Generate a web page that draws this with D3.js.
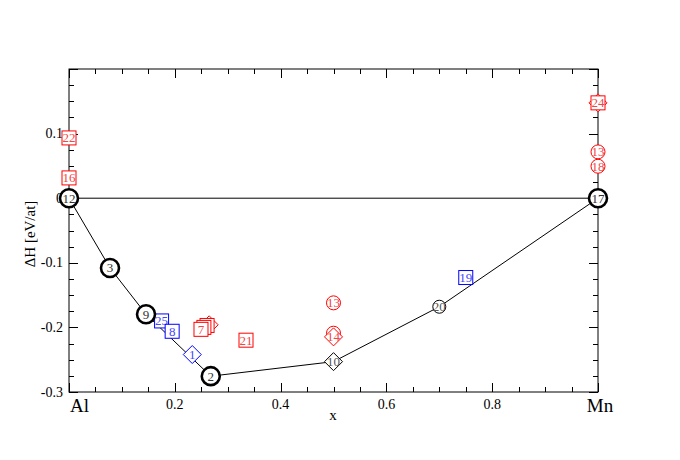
<!DOCTYPE html>
<html><head><meta charset="utf-8">
<script src="https://cdn.jsdelivr.net/npm/d3@7"></script>
<style>body{margin:0;background:#fff}svg{display:block}text{font-family:"Liberation Serif","DejaVu Serif",serif}</style>
</head><body><svg id="c" width="680" height="460"></svg>
<script>
// ---- data ----
const hullX = [0, 0.0775, 0.1456, 0.268, 0.5, 0.7, 1];
const hullY = [0, -0.108, -0.1796, -0.2755, -0.253, -0.168, 0];

const blackBigLabels = ["12", "3", "9", "2", "17"];
const blackBigX = [0, 0.0775, 0.1456, 0.268, 1];
const blackBigY = [0, -0.108, -0.1796, -0.2755, 0];

const blackSmallLabels = ["20"];
const blackSmallX = [0.7];
const blackSmallY = [-0.168];

const blackDiamondLabels = ["10"];
const blackDiamondX = [0.5];
const blackDiamondY = [-0.253];

const blueSquareLabels = ["25", "8", "19"];
const blueSquareX = [0.175, 0.195, 0.75];
const blueSquareY = [-0.190, -0.206, -0.1228];

const blueDiamondLabels = ["1"];
const blueDiamondX = [0.233];
const blueDiamondY = [-0.242];

// labels hidden behind other markers in the reference are left empty
const redCircleLabels = ["13", "", "13", "18"];
const redCircleX = [0.5, 0.5, 1, 1];
const redCircleY = [-0.162, -0.209, 0.0717, 0.0495];

const redDiamondLabels = ["", "14", ""];
const redDiamondX = [0.265, 0.5, 1];
const redDiamondY = [-0.196, -0.2147, 0.1476];

const redSquareLabels = ["22", "16", "24", "", "", "7", "21"];
const redSquareX = [0, 0, 1, 0.261, 0.255, 0.2495, 0.3346];
const redSquareY = [0.0933, 0.0314, 0.1476, -0.197, -0.200, -0.203, -0.2198];

const xTicks = [0, 0.2, 0.4, 0.6, 0.8, 1];
const xTickLabels = ["Al", "0.2", "0.4", "0.6", "0.8", "Mn"];
const yTicks = [0.1, 0, -0.1, -0.2, -0.3];
const yTickLabels = ["0.1", "0", "-0.1", "-0.2", "-0.3"];

// ---- layout ----
const svg = d3.select("#c");
const L = 69, R = 598, T = 69, B = 392;
const x = d3.scaleLinear().domain([0, 1]).range([L, R]);
const y = d3.scaleLinear().domain([-0.3, 0.2]).range([B, T]);

// frame
svg.append("rect").attr("x", L).attr("y", T).attr("width", R - L).attr("height", B - T)
  .attr("fill", "none").attr("stroke", "#000").attr("stroke-width", 1);

// ticks (inward on all sides)
const xMinor = d3.range(0, 1.0001, 0.05);
const yMinor = d3.range(-0.3, 0.2001, 0.025);
const isMajX = v => Math.abs(v * 5 - Math.round(v * 5)) < 1e-6;
const isMajY = v => Math.abs(v * 10 - Math.round(v * 10)) < 1e-6;
const tk = svg.append("g").attr("stroke", "#000").attr("stroke-width", 1);
xMinor.forEach(v => {
  const len = isMajX(v) ? 9 : 5;
  const px = Math.round(x(v)) + 0.5;
  tk.append("line").attr("x1", px).attr("x2", px).attr("y1", B).attr("y2", B - len);
  tk.append("line").attr("x1", px).attr("x2", px).attr("y1", T).attr("y2", T + len);
});
yMinor.forEach(v => {
  const len = isMajY(v) ? 9 : 5;
  const py = Math.round(y(v)) + 0.5;
  tk.append("line").attr("x1", L).attr("x2", L + len).attr("y1", py).attr("y2", py);
  tk.append("line").attr("x1", R).attr("x2", R - len).attr("y1", py).attr("y2", py);
});

// tick labels
xTicks.forEach((v, i) => {
  const big = (i === 0 || i === xTicks.length - 1);
  svg.append("text").attr("x", x(v) + (i === 0 ? 1 : (big ? 2 : 0)))
    .attr("y", big ? 412 : 409)
    .attr("text-anchor", i === 0 ? "start" : "middle")
    .attr("font-size", big ? 19 : 14).attr("fill", "#000").text(xTickLabels[i]);
});
yTicks.forEach((v, i) => {
  svg.append("text").attr("x", 63).attr("y", y(v) + 4.5).attr("text-anchor", "end")
    .attr("font-size", 14).attr("fill", "#000").text(yTickLabels[i]);
});

// axis titles
svg.append("text").attr("x", 333).attr("y", 420).attr("text-anchor", "middle")
  .attr("font-size", 15).text("x");
svg.append("text").attr("transform", "translate(35,234) rotate(-90)").attr("text-anchor", "middle")
  .attr("font-size", 15).text("ΔH [eV/at]");

// lines
svg.append("line").attr("x1", x(0)).attr("x2", x(1)).attr("y1", y(0)).attr("y2", y(0))
  .attr("stroke", "#000").attr("stroke-width", 1);
const hull = hullX.map((v, i) => [v, hullY[i]]);
svg.append("path").attr("d", d3.line().x(d => x(d[0])).y(d => y(d[1]))(hull))
  .attr("fill", "none").attr("stroke", "#000").attr("stroke-width", 1);

// markers
function drawSeries(labels, xs, ys, shape, color, textColor, opts) {
  labels.forEach((lab, i) => {
    const g = svg.append("g").attr("transform", `translate(${x(xs[i])},${y(ys[i])})`);
    if (shape === "circle") {
      g.append("circle").attr("r", opts.r).attr("fill", "#fff").attr("stroke", color).attr("stroke-width", opts.sw);
    } else if (shape === "square") {
      const s = opts.s;
      g.append("rect").attr("x", -s / 2).attr("y", -s / 2).attr("width", s).attr("height", s)
        .attr("fill", "#fff").attr("stroke", color).attr("stroke-width", opts.sw);
    } else {
      const d = opts.d;
      g.append("path").attr("d", `M0,${-d}L${d},0L0,${d}L${-d},0Z`)
        .attr("fill", "#fff").attr("stroke", color).attr("stroke-width", opts.sw);
    }
    if (lab) {
      g.append("text").attr("text-anchor", "middle").attr("y", 4.5).attr("font-size", 13)
        .attr("fill", textColor).text(lab);
    }
  });
}

drawSeries(redCircleLabels, redCircleX, redCircleY, "circle", "#ff0000", "#f04848", {r: 7, sw: 1});
drawSeries(redDiamondLabels, redDiamondX, redDiamondY, "diamond", "#ff0000", "#f04848", {d: 9, sw: 1});
drawSeries(redSquareLabels, redSquareX, redSquareY, "square", "#ff0000", "#f04848", {s: 14, sw: 1});
drawSeries(blueSquareLabels, blueSquareX, blueSquareY, "square", "#0000ff", "#4646ff", {s: 14, sw: 1});
drawSeries(blueDiamondLabels, blueDiamondX, blueDiamondY, "diamond", "#0000ff", "#4646ff", {d: 9, sw: 1});
drawSeries(blackDiamondLabels, blackDiamondX, blackDiamondY, "diamond", "#000", "#555", {d: 9, sw: 1});
drawSeries(blackSmallLabels, blackSmallX, blackSmallY, "circle", "#000", "#555", {r: 6.5, sw: 1});
drawSeries(blackBigLabels, blackBigX, blackBigY, "circle", "#000", "#333", {r: 9, sw: 2.6});
</script></body></html>
